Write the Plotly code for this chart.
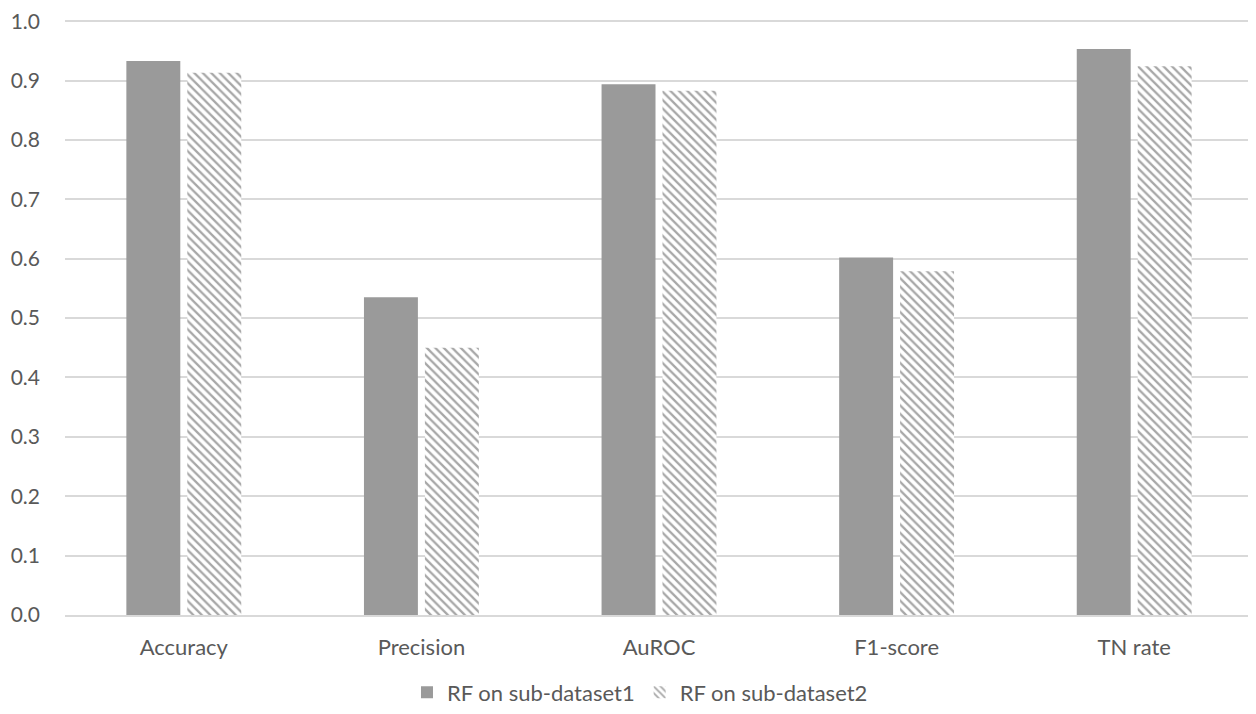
import plotly.graph_objects as go

categories = ["Accuracy", "Precision", "AuROC", "F1-score", "TN rate"]
series1_name = "RF on sub-dataset1"
series2_name = "RF on sub-dataset2"
series1 = [0.933, 0.535, 0.894, 0.602, 0.953]
series2 = [0.913, 0.450, 0.883, 0.579, 0.924]
y_ticks = [0.0, 0.1, 0.2, 0.3, 0.4, 0.5, 0.6, 0.7, 0.8, 0.9, 1.0]

fig = go.Figure()
fig.add_trace(go.Bar(x=categories, y=series1, name=series1_name,
                     marker=dict(color="#9a9a9a", line=dict(width=0))))
fig.add_trace(go.Bar(x=categories, y=series2, name=series2_name,
                     marker=dict(color="white", line=dict(width=0),
                                 pattern=dict(shape="\\", fgcolor="#505050", bgcolor="white",
                                              size=6, solidity=0.38))))

fig.update_layout(
    width=1248, height=706,
    margin=dict(l=57, r=3, t=12, b=99, autoexpand=False),
    paper_bgcolor="white", plot_bgcolor="white",
    barmode="group", bargap=0.487, bargroupgap=0.115,
    font=dict(family="Lato", size=22, color="#595959"),
    legend=dict(orientation="h", x=0.484, xanchor="center", y=-0.095, yanchor="top",
                font=dict(size=22, color="#595959"), traceorder="normal",
                itemwidth=30),
    xaxis=dict(showgrid=False, showline=True, linecolor="#d9d9d9", linewidth=1.5,
               ticks="", tickfont=dict(size=22), automargin=False, ticklabelstandoff=12),
    yaxis=dict(range=[0, 1.002], tickvals=y_ticks, ticktext=[f"{v:.1f}" for v in y_ticks],
               showgrid=True, gridcolor="#d9d9d9", gridwidth=1.5, zeroline=False,
               ticks="", ticklabelstandoff=24, tickfont=dict(size=21), automargin=False,
               ticklabeloverflow="allow"),
)
fig.write_html("out.html")
